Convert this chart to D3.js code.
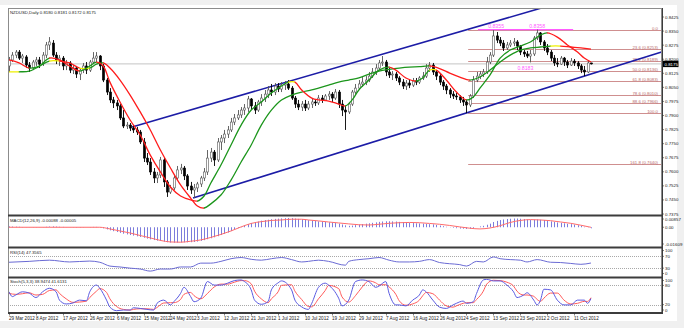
<!DOCTYPE html>
<html><head><meta charset="utf-8">
<script src="https://cdn.jsdelivr.net/npm/d3@7"></script>
<style>
html,body{margin:0;padding:0;background:#f0f0f0;}
svg{display:block;font-family:"Liberation Sans",Arial,sans-serif;}
</style></head>
<body><svg id="chart" width="684" height="328"></svg>
<script>
// ---- NZDUSD daily, 29 Mar – 17 Oct 2012 ----
const dateLabels = ["29 Mar 2012","8 Apr 2012","17 Apr 2012","26 Apr 2012","6 May 2012","15 May 2012","24 May 2012","3 Jun 2012","12 Jun 2012","21 Jun 2012","1 Jul 2012","10 Jul 2012","19 Jul 2012","29 Jul 2012","7 Aug 2012","16 Aug 2012","26 Aug 2012","4 Sep 2012","13 Sep 2012","23 Sep 2012","2 Oct 2012","11 Oct 2012"];
const barsPerDateLabel = 8;

const opens = [0.8164,0.8196,0.8222,0.8238,0.8206,0.8212,0.8169,0.8153,0.8185,0.8196,0.8180,0.8222,0.8276,0.8286,0.8222,0.8196,0.8206,0.8164,0.8180,0.8142,0.8153,0.8121,0.8142,0.8164,0.8142,0.8185,0.8206,0.8217,0.8164,0.8089,0.8025,0.7983,0.7967,0.7951,0.7887,0.7844,0.7849,0.7833,0.7823,0.7812,0.7759,0.7673,0.7652,0.7599,0.7567,0.7583,0.7663,0.7546,0.7492,0.7514,0.7567,0.7610,0.7620,0.7578,0.7524,0.7503,0.7514,0.7535,0.7567,0.7599,0.7673,0.7705,0.7663,0.7759,0.7780,0.7801,0.7823,0.7865,0.7887,0.7903,0.7929,0.7940,0.7988,0.7951,0.7929,0.7972,0.7993,0.8014,0.8036,0.8025,0.8057,0.8041,0.8062,0.8068,0.8046,0.7993,0.7961,0.7945,0.7961,0.7940,0.7961,0.7972,0.7967,0.7993,0.7983,0.8004,0.8014,0.7993,0.8025,0.7961,0.7929,0.7919,0.7961,0.8025,0.8046,0.8068,0.8078,0.8089,0.8110,0.8132,0.8153,0.8180,0.8185,0.8132,0.8116,0.8121,0.8100,0.8078,0.8057,0.8073,0.8062,0.8084,0.8078,0.8100,0.8110,0.8153,0.8169,0.8132,0.8110,0.8078,0.8057,0.8036,0.8014,0.8004,0.7999,0.7983,0.7972,0.7956,0.8004,0.8089,0.8110,0.8121,0.8132,0.8185,0.8222,0.8324,0.8302,0.8286,0.8260,0.8276,0.8286,0.8292,0.8270,0.8238,0.8228,0.8217,0.8228,0.8313,0.8340,0.8292,0.8260,0.8238,0.8206,0.8180,0.8174,0.8206,0.8185,0.8169,0.8190,0.8180,0.8164,0.8142,0.8132,0.8180];
const highs = [0.8212,0.8238,0.8249,0.8249,0.8228,0.8222,0.8185,0.8196,0.8212,0.8212,0.8238,0.8292,0.8318,0.8302,0.8238,0.8222,0.8217,0.8196,0.8190,0.8169,0.8164,0.8153,0.8180,0.8185,0.8196,0.8238,0.8238,0.8222,0.8174,0.8100,0.8046,0.7999,0.7983,0.7961,0.7929,0.7865,0.7860,0.7849,0.7839,0.7823,0.7780,0.7700,0.7673,0.7620,0.7599,0.7679,0.7673,0.7556,0.7530,0.7578,0.7631,0.7642,0.7631,0.7588,0.7546,0.7535,0.7546,0.7578,0.7620,0.7716,0.7727,0.7716,0.7780,0.7796,0.7823,0.7844,0.7887,0.7908,0.7929,0.7945,0.7961,0.8004,0.7993,0.7972,0.7983,0.8014,0.8036,0.8057,0.8068,0.8073,0.8073,0.8078,0.8084,0.8089,0.8057,0.8004,0.7983,0.7977,0.7983,0.7977,0.7988,0.7988,0.8009,0.8009,0.8014,0.8030,0.8025,0.8041,0.8036,0.7983,0.7951,0.7972,0.8036,0.8068,0.8089,0.8105,0.8110,0.8132,0.8153,0.8174,0.8196,0.8217,0.8196,0.8153,0.8137,0.8132,0.8110,0.8094,0.8089,0.8094,0.8100,0.8100,0.8110,0.8132,0.8174,0.8185,0.8180,0.8142,0.8121,0.8089,0.8068,0.8046,0.8030,0.8020,0.8009,0.7999,0.7983,0.8014,0.8110,0.8132,0.8137,0.8148,0.8212,0.8238,0.8355,0.8345,0.8318,0.8302,0.8292,0.8302,0.8313,0.8302,0.8276,0.8249,0.8244,0.8249,0.8324,0.8358,0.8345,0.8302,0.8281,0.8249,0.8222,0.8206,0.8217,0.8212,0.8196,0.8206,0.8201,0.8190,0.8174,0.8164,0.8190,0.8181];
const lows = [0.8132,0.8185,0.8206,0.8196,0.8180,0.8153,0.8132,0.8142,0.8164,0.8153,0.8164,0.8206,0.8249,0.8212,0.8174,0.8164,0.8142,0.8142,0.8126,0.8121,0.8100,0.8089,0.8126,0.8121,0.8132,0.8174,0.8185,0.8142,0.8078,0.8009,0.7967,0.7940,0.7929,0.7876,0.7833,0.7828,0.7817,0.7807,0.7796,0.7748,0.7652,0.7636,0.7583,0.7540,0.7540,0.7567,0.7519,0.7466,0.7482,0.7503,0.7556,0.7588,0.7556,0.7503,0.7482,0.7460,0.7492,0.7519,0.7551,0.7583,0.7652,0.7631,0.7652,0.7716,0.7753,0.7780,0.7812,0.7849,0.7876,0.7887,0.7903,0.7919,0.7929,0.7908,0.7919,0.7951,0.7972,0.7993,0.8004,0.8009,0.8025,0.8025,0.8036,0.8036,0.7983,0.7940,0.7929,0.7924,0.7924,0.7929,0.7940,0.7951,0.7956,0.7967,0.7977,0.7983,0.7972,0.7983,0.7940,0.7897,0.7823,0.7908,0.7951,0.8009,0.8036,0.8052,0.8062,0.8078,0.8100,0.8116,0.8142,0.8164,0.8110,0.8100,0.8089,0.8084,0.8062,0.8041,0.8036,0.8046,0.8052,0.8062,0.8068,0.8089,0.8100,0.8132,0.8116,0.8089,0.8062,0.8036,0.8014,0.7993,0.7988,0.7983,0.7967,0.7951,0.7913,0.7945,0.7993,0.8078,0.8094,0.8105,0.8121,0.8174,0.8212,0.8286,0.8270,0.8244,0.8249,0.8265,0.8270,0.8249,0.8222,0.8212,0.8206,0.8183,0.8217,0.8302,0.8276,0.8244,0.8222,0.8190,0.8164,0.8158,0.8169,0.8164,0.8153,0.8164,0.8164,0.8148,0.8126,0.8110,0.8126,0.8172];
const closes = [0.8196,0.8222,0.8238,0.8206,0.8217,0.8169,0.8153,0.8185,0.8196,0.8174,0.8222,0.8276,0.8292,0.8222,0.8196,0.8206,0.8164,0.8180,0.8142,0.8153,0.8121,0.8142,0.8164,0.8142,0.8185,0.8206,0.8217,0.8164,0.8089,0.8025,0.7983,0.7967,0.7951,0.7887,0.7844,0.7849,0.7833,0.7823,0.7812,0.7759,0.7673,0.7652,0.7599,0.7567,0.7583,0.7663,0.7546,0.7492,0.7514,0.7567,0.7610,0.7620,0.7578,0.7524,0.7503,0.7514,0.7535,0.7567,0.7599,0.7673,0.7705,0.7663,0.7759,0.7780,0.7801,0.7823,0.7865,0.7887,0.7903,0.7929,0.7940,0.7988,0.7951,0.7929,0.7972,0.7993,0.8014,0.8036,0.8025,0.8057,0.8041,0.8062,0.8068,0.8046,0.7993,0.7961,0.7945,0.7961,0.7940,0.7961,0.7972,0.7967,0.7993,0.7983,0.8004,0.8014,0.7993,0.8025,0.7961,0.7929,0.7919,0.7961,0.8025,0.8046,0.8068,0.8078,0.8089,0.8110,0.8132,0.8153,0.8180,0.8185,0.8132,0.8116,0.8121,0.8100,0.8078,0.8057,0.8073,0.8062,0.8084,0.8078,0.8100,0.8110,0.8153,0.8169,0.8132,0.8110,0.8078,0.8057,0.8036,0.8014,0.8004,0.7999,0.7983,0.7972,0.7956,0.8004,0.8089,0.8110,0.8121,0.8132,0.8185,0.8222,0.8324,0.8302,0.8286,0.8260,0.8276,0.8286,0.8292,0.8270,0.8238,0.8228,0.8217,0.8228,0.8313,0.8340,0.8292,0.8260,0.8238,0.8206,0.8180,0.8174,0.8206,0.8185,0.8169,0.8190,0.8180,0.8164,0.8142,0.8132,0.8180,0.8175];

// colour-changing moving averages (sampled by bar)
const fastMaBars = [0,3,6,9,12,15,18,21,24,26,28,30,33,36,39,42,45,48,51,54,56,58,60,63,66,69,72,75,78,81,83,85,87,90,92,95,98,100,102,104,107,110,113,115,118,121,123,125,127,130,133,136,138,140,143,146,149,152,155,158,160,163,166,169,171,173];
const fastMaValues = [0.8196,0.8180,0.8153,0.8164,0.8206,0.8196,0.8164,0.8137,0.8164,0.8185,0.8164,0.8078,0.7972,0.7876,0.7796,0.7689,0.7599,0.7519,0.7471,0.7450,0.7444,0.7471,0.7540,0.7636,0.7743,0.7849,0.7929,0.7972,0.8020,0.8057,0.8078,0.8078,0.8036,0.7993,0.7983,0.7977,0.7961,0.7951,0.7983,0.8036,0.8089,0.8142,0.8158,0.8142,0.8100,0.8084,0.8100,0.8142,0.8142,0.8089,0.8025,0.7983,0.7999,0.8046,0.8116,0.8206,0.8249,0.8270,0.8292,0.8329,0.8340,0.8318,0.8276,0.8238,0.8206,0.8185];
const slowMaBars = [0,3,6,9,12,15,18,21,24,26,28,30,33,36,39,42,45,48,51,54,56,58,60,63,66,69,72,75,78,81,84,87,90,92,95,98,101,104,107,110,113,116,119,122,125,128,131,134,137,140,143,146,149,152,155,158,161,164,167,170,173];
const slowMaValues = [0.8132,0.8133,0.8136,0.8162,0.8190,0.8190,0.8180,0.8153,0.8153,0.8174,0.8180,0.8153,0.8089,0.8009,0.7919,0.7823,0.7716,0.7620,0.7530,0.7460,0.7418,0.7407,0.7429,0.7476,0.7556,0.7652,0.7743,0.7849,0.7929,0.7983,0.8009,0.8025,0.8036,0.8046,0.8062,0.8078,0.8089,0.8100,0.8121,0.8137,0.8146,0.8153,0.8158,0.8160,0.8164,0.8150,0.8126,0.8105,0.8089,0.8105,0.8142,0.8185,0.8222,0.8249,0.8260,0.8265,0.8270,0.8270,0.8265,0.8260,0.8254];

// channel trendlines: two anchors each (bar, price)
const upperChannelBars = [36.6, 134.1];
const upperChannelPrices = [0.7839, 0.8347];
const lowerChannelBars = [54.7, 194];
const lowerChannelPrices = [0.7460, 0.8238];

// Fibonacci retracement from the 4 Sep low to the 19 Sep high
const fibStartBar = 136.5;
const fibLevels = [0.0, 23.6, 38.2, 50.0, 61.8, 78.6, 88.6, 100.0, 161.8];
const fibPrices = [0.8358, 0.8253, 0.8189, 0.8136, 0.8083, 0.8010, 0.7966, 0.7913, 0.7640];

// swing annotations
const swingBars = [144.8, 157, 153.5];
const swingPrices = [0.8355, 0.8358, 0.8183];
const swingIsHigh = [true, true, false];
const swingLineBars = [139.4, 167.7];
const swingLinePrice = 0.8358;

const lastPrice = 0.8175;
const priceTicks = [0.8425,0.8350,0.8275,0.8200,0.8125,0.8050,0.7975,0.7900,0.7825,0.7750,0.7675,0.7600,0.7525,0.7450,0.7375];

// MACD(12,26,9)
const macdHist = [0.0007,0.0006,0.0005,0.0004,0.0002,0.0001,-0.0001,-0.0002,-0.0002,-0.0001,0.0001,0.0004,0.0006,0.0007,0.0006,0.0004,0.0003,0.0001,-0.0001,-0.0002,-0.0003,-0.0003,-0.0002,0.0000,0.0002,0.0003,0.0003,0.0002,
-0.0009,-0.0018,-0.0026,-0.0033,-0.0040,-0.0047,-0.0054,-0.0060,-0.0065,-0.0070,-0.0076,-0.0081,-0.0088,-0.0095,-0.0101,-0.0107,-0.0112,-0.0114,-0.0120,-0.0125,-0.0128,
-0.0129,-0.0128,-0.0127,-0.0126,-0.0126,-0.0125,-0.0123,-0.0120,-0.0114,-0.0108,-0.0100,-0.0092,-0.0084,-0.0075,-0.0065,-0.0055,-0.0044,-0.0032,-0.0019,-0.0007,
0.0004,0.0015,0.0026,0.0035,0.0042,0.0048,0.0055,0.0060,0.0063,0.0067,0.0070,0.0072,0.0074,0.0076,0.0077,0.0076,0.0073,0.0070,0.0066,0.0062,0.0059,0.0055,0.0052,0.0049,0.0047,0.0044,0.0041,0.0039,0.0035,
0.0030,0.0023,0.0016,0.0012,0.0014,0.0018,0.0022,0.0026,0.0030,0.0033,0.0037,0.0041,0.0045,0.0048,0.0050,0.0050,0.0049,0.0048,0.0045,0.0042,0.0040,0.0037,0.0035,0.0033,0.0032,0.0030,0.0028,0.0026,0.0024,0.0019,0.0014,0.0009,0.0004,-0.0002,-0.0005,-0.0008,-0.0011,-0.0012,-0.0014,
-0.0012,-0.0007,0.0000,0.0007,0.0012,0.0021,0.0030,0.0044,0.0053,0.0060,0.0065,0.0069,0.0071,0.0073,0.0073,0.0071,0.0069,0.0065,0.0062,0.0063,0.0065,0.0063,0.0060,0.0055,0.0049,0.0044,0.0040,0.0036,0.0033,0.0029,0.0026,0.0022,0.0017,0.0011,0.0004,-0.0002,-0.00088];
const macdSignalBars = [0,12,27,30,33,36,39,42,45,48,51,54,57,60,63,66,69,72,75,78,81,84,87,89,92,95,98,101,104,107,110,113,116,119,122,125,128,131,134,137,140,143,146,149,152,155,158,161,164,167,170,173];
const macdSignal = [0.0000,0.0000,0.0000,-0.0014,-0.0031,-0.0048,-0.0069,-0.0089,-0.0110,-0.0123,-0.0125,-0.0117,-0.0106,-0.0085,-0.0060,-0.0031,0.0003,0.0032,0.0047,0.0057,0.0061,0.0067,0.0067,0.0061,0.0053,0.0044,0.0036,0.0028,0.0021,0.0019,0.0025,0.0033,0.0038,0.0040,0.0038,0.0032,0.0025,0.0015,0.0003,-0.0008,-0.0014,-0.0006,0.0013,0.0040,0.0057,0.0064,0.0061,0.0055,0.0044,0.0033,0.0017,-0.00005];
const macdRange = [-0.01609, 0.00857];

// RSI(14)
const rsiBars = [0,6,12,18,24,27,30,33,36,39,42,45,48,51,54,57,60,63,66,69,72,75,78,81,84,87,89,92,95,100,101,104,107,110,113,116,119,122,125,128,131,134,136,139,141,144,146,149,152,154,157,161,164,167,170,173];
const rsiValues = [50,53,57,51,54,50,37,34,30,27,20,27,27,34,34,47,47,53,62,66,60,57,62,66,59,51,53,57,53,40,53,59,62,66,57,51,51,53,59,49,45,42,37,53,51,68,62,59,57,51,59,50,49,46,43,47.3565];
const rsiLevels = [70, 30];
const rsiTickValues = [100, 70, 30, 0];

// Stochastic(5,3,3)
const stochBars = [0,1,2,4,6,8,10,12,14,15,17,19,21,23,24,26,27,29,30,32,34,36,37,39,41,43,44,46,48,49,51,52,54,55,57,59,61,63,65,67,69,70,72,73,75,77,78,80,81,84,85,87,89,90,92,94,95,98,99,101,103,105,107,109,110,112,113,115,116,118,120,122,123,124,126,128,130,132,133,135,136,138,139,141,142,144,146,148,150,151,153,154,156,157,158,159,161,163,165,167,169,171,172,173];
const stochK = [60,45,50,60,56,42,60,71,60,34,22,25,34,32,60,81,71,34,12,1,3,3,10,8,5,3,24,34,19,29,55,74,45,29,40,92,81,81,87,95,97,92,66,34,21,29,66,88,94,66,34,13,5,24,74,87,81,40,16,34,92,97,92,74,78,92,55,19,19,16,34,50,66,60,34,12,8,19,24,31,24,29,55,97,99,94,94,81,60,42,50,57,34,19,34,68,66,34,19,19,34,34,24,38.9474];
const stochDBars = [0,2,4,6,8,10,12,14,15,17,19,21,23,24,26,27,29,30,32,34,36,37,39,41,43,44,46,48,49,51,52,54,55,57,59,61,63,65,67,69,70,72,73,75,77,78,80,81,84,85,87,89,90,92,94,95,98,99,101,103,105,107,109,110,112,113,115,116,118,120,122,123,124,126,128,130,132,133,135,136,138,139,141,142,144,146,148,150,151,153,154,156,157,158,159,161,163,165,167,169,171,172,173];
const stochD = [55,52,54,57,50,52,64,66,55,38,27,28,31,42,62,70,58,38,14,5,3,5,7,7,5,11,25,26,26,36,52,58,48,38,55,75,84,84,90,95,95,85,62,38,26,38,60,80,82,62,36,14,13,38,64,80,70,44,28,48,75,94,88,82,82,75,52,32,18,22,34,48,58,54,34,16,12,16,24,26,26,36,62,84,96,95,90,78,62,50,50,46,36,30,40,56,56,34,22,24,30,30,41.6131];
const stochLevels = [80, 20];
const stochTickValues = [100, 80, 20, 0];

// ---- layout ----
const svg = d3.select("#chart");
const plotL = 8, plotR = 662;
const mainT = 8, mainB = 215;
const macdT = 217, macdB = 246.5;
const rsiT = 248.5, rsiB = 277;
const stT = 279, stB = 312.5;

const x = d3.scaleLinear().domain([0, 194]).range([9, 661.6]);
const yPrice = d3.scaleLinear().domain([0.7375, 0.8425]).range([214, 17]);
const yMacd = d3.scaleLinear().domain(macdRange).range([246.5, 217]);
const yRsi = d3.scaleLinear().domain([0, 100]).range([277, 247.5]);
const ySt = d3.scaleLinear().domain([0, 100]).range([311, 279]);

const defs = svg.append("defs");
function clipRect(id, t, b) {
  defs.append("clipPath").attr("id", id).append("rect")
    .attr("x", plotL).attr("y", t).attr("width", plotR - plotL).attr("height", b - t);
}
clipRect("clip-main", mainT, mainB);
clipRect("clip-macd", macdT, macdB);
clipRect("clip-rsi", rsiT, rsiB);
clipRect("clip-st", stT, stB);

// backgrounds
svg.append("rect").attr("x", 0).attr("y", 5).attr("width", 677).attr("height", 316).attr("fill", "#ffffff");

const gMain = svg.append("g").attr("clip-path", "url(#clip-main)");
const gMacd = svg.append("g").attr("clip-path", "url(#clip-macd)");
const gRsi = svg.append("g").attr("clip-path", "url(#clip-rsi)");
const gSt = svg.append("g").attr("clip-path", "url(#clip-st)");

// bid line
gMain.append("line").attr("x1", plotL).attr("x2", plotR)
  .attr("y1", yPrice(lastPrice)).attr("y2", yPrice(lastPrice))
  .attr("stroke", "#c4c4c4").attr("stroke-width", 1);

// Fibonacci levels
const fibColour = "#cf8f8f";
fibLevels.forEach((lv, i) => {
  const yy = Math.round(yPrice(fibPrices[i])) + 0.5;
  gMain.append("line").attr("x1", x(fibStartBar)).attr("x2", plotR)
    .attr("y1", yy).attr("y2", yy).attr("stroke", fibColour).attr("stroke-width", 1);
  const txt = (lv === 0 || lv === 100) ? lv.toFixed(1) : `${lv.toFixed(1)} (${fibPrices[i].toFixed(4)})`;
  gMain.append("text").attr("x", plotR - 4).attr("y", yy - 1)
    .attr("text-anchor", "end").attr("font-size", 4.3).attr("fill", "#b86a6a").text(txt);
});

// swing high line and labels
const magenta = "#ff5cff";
gMain.append("line").attr("x1", x(swingLineBars[0])).attr("x2", x(swingLineBars[1]))
  .attr("y1", yPrice(swingLinePrice)).attr("y2", yPrice(swingLinePrice))
  .attr("stroke", magenta).attr("stroke-width", 1.2);
swingBars.forEach((b, i) => {
  gMain.append("text").attr("x", x(b))
    .attr("y", swingIsHigh[i] ? yPrice(swingPrices[i]) - 2 : yPrice(swingPrices[i]) + 7.5)
    .attr("text-anchor", "middle").attr("font-size", 5.2).attr("fill", magenta)
    .text(swingPrices[i].toFixed(4));
});

// channel lines
function drawTrend(bars, prices) {
  const slope = (prices[1] - prices[0]) / (bars[1] - bars[0]);
  const endBar = 194;
  gMain.append("line")
    .attr("x1", x(bars[0])).attr("y1", yPrice(prices[0]))
    .attr("x2", x(endBar)).attr("y2", yPrice(prices[0] + slope * (endBar - bars[0])))
    .attr("stroke", "#1c1ca6").attr("stroke-width", 1.6);
}
drawTrend(upperChannelBars, upperChannelPrices);
drawTrend(lowerChannelBars, lowerChannelPrices);

// candlesticks
const bodyW = 2.2;
closes.forEach((c, i) => {
  const o = opens[i], up = c >= o;
  const cx = Math.round(x(i)) + 0.5;
  gMain.append("line").attr("x1", cx).attr("x2", cx)
    .attr("y1", yPrice(highs[i])).attr("y2", yPrice(lows[i]))
    .attr("stroke", up ? "#555" : "#000").attr("stroke-width", 0.9);
  const y0 = yPrice(Math.max(o, c)), y1 = yPrice(Math.min(o, c));
  gMain.append("rect").attr("x", cx - bodyW / 2).attr("width", bodyW)
    .attr("y", y0).attr("height", Math.max(0.8, y1 - y0))
    .attr("fill", up ? "#ffffff" : "#000000")
    .attr("stroke", up ? "#555" : "#000").attr("stroke-width", 0.6);
});

// colour-changing moving averages
const maUp = "#1c961c", maDown = "#ff1c1c", maFlat = "#f0f000";
const flatSlope = 0.00006;
let clipCount = 0;
function drawMa(bars, vals) {
  const pathD = d3.line().x((d, i) => x(bars[i])).y(d => yPrice(d))
    .curve(d3.curveCatmullRom.alpha(0.5))(vals);
  const runs = [];
  for (let i = 0; i < bars.length - 1; i++) {
    const s = (vals[i + 1] - vals[i]) / (bars[i + 1] - bars[i]);
    const col = s > flatSlope ? maUp : (s < -flatSlope ? maDown : maFlat);
    if (runs.length && runs[runs.length - 1].col === col) runs[runs.length - 1].b1 = bars[i + 1];
    else runs.push({ b0: bars[i], b1: bars[i + 1], col });
  }
  runs.forEach(r => {
    const id = "ma-run-" + (clipCount++);
    defs.append("clipPath").attr("id", id).append("rect")
      .attr("x", x(r.b0) - 0.3).attr("width", x(r.b1) - x(r.b0) + 0.6)
      .attr("y", mainT).attr("height", mainB - mainT);
    gMain.append("path").attr("d", pathD).attr("clip-path", `url(#${id})`)
      .attr("fill", "none").attr("stroke", r.col).attr("stroke-width", 1.3);
  });
}
drawMa(slowMaBars, slowMaValues);
drawMa(fastMaBars, fastMaValues);

// MACD
macdHist.forEach((v, i) => {
  const cx = Math.round(x(i)) + 0.5;
  gMacd.append("line").attr("x1", cx).attr("x2", cx)
    .attr("y1", yMacd(0)).attr("y2", yMacd(v))
    .attr("stroke", "#7c7cdc").attr("stroke-width", 1);
});
gMacd.append("path")
  .attr("d", d3.line().x((d, i) => x(macdSignalBars[i])).y(d => yMacd(d)).curve(d3.curveMonotoneX)(macdSignal))
  .attr("fill", "none").attr("stroke", "#ff6a6a").attr("stroke-width", 1);

// RSI
rsiLevels.forEach(l => gRsi.append("line").attr("x1", plotL).attr("x2", plotR)
  .attr("y1", Math.round(yRsi(l)) + 0.5).attr("y2", Math.round(yRsi(l)) + 0.5)
  .attr("stroke", "#a8a8a8").attr("stroke-dasharray", "1,1"));
gRsi.append("path")
  .attr("d", d3.line().x((d, i) => x(rsiBars[i])).y(d => yRsi(d)).curve(d3.curveMonotoneX)(rsiValues))
  .attr("fill", "none").attr("stroke", "#6a6ad4").attr("stroke-width", 1);

// Stochastic
stochLevels.forEach(l => gSt.append("line").attr("x1", plotL).attr("x2", plotR)
  .attr("y1", Math.round(ySt(l)) + 0.5).attr("y2", Math.round(ySt(l)) + 0.5)
  .attr("stroke", "#a8a8a8").attr("stroke-dasharray", "1,1"));
gSt.append("path")
  .attr("d", d3.line().x((d, i) => x(stochDBars[i])).y(d => ySt(d)).curve(d3.curveMonotoneX)(stochD))
  .attr("fill", "none").attr("stroke", "#ff5a5a").attr("stroke-width", 1);
gSt.append("path")
  .attr("d", d3.line().x((d, i) => x(stochBars[i])).y(d => ySt(d)).curve(d3.curveMonotoneX)(stochK))
  .attr("fill", "none").attr("stroke", "#5a5ae0").attr("stroke-width", 1);

// frames and separators
svg.append("rect").attr("x", plotL + 0.5).attr("y", mainT + 0.5)
  .attr("width", plotR - plotL - 1).attr("height", stB - mainT)
  .attr("fill", "none").attr("stroke", "#8c8c8c").attr("stroke-width", 1);
[mainB + 0.5, 247.5, 277.5, 313].forEach(yy => svg.append("line")
  .attr("x1", plotL).attr("x2", plotR).attr("y1", yy).attr("y2", yy)
  .attr("stroke", "#3c3c3c").attr("stroke-width", 1.8));
svg.append("line").attr("x1", plotR + 0.5).attr("x2", plotR + 0.5)
  .attr("y1", mainT).attr("y2", 314).attr("stroke", "#3c3c3c").attr("stroke-width", 1);

// right axes
const axisFont = 4.4;
function rightLabels(vals, scale, fmt, clampT, clampB) {
  vals.forEach(v => {
    const yy = Math.min(clampB, Math.max(clampT, scale(v)));
    svg.append("line").attr("x1", plotR).attr("x2", plotR + 2).attr("y1", yy).attr("y2", yy)
      .attr("stroke", "#333").attr("stroke-width", 0.6);
    svg.append("text").attr("x", plotR + 3).attr("y", yy + 1.5).attr("font-size", axisFont)
      .attr("fill", "#222").text(fmt(v));
  });
}
rightLabels(priceTicks, yPrice, d => d.toFixed(4), 10, 214);
rightLabels([macdRange[1], 0, macdRange[0]], yMacd, d => d === 0 ? "0.00" : d.toFixed(5), 219, 244);
rightLabels(rsiTickValues, yRsi, d => String(d), 250.5, 273.5);
rightLabels(stochTickValues, ySt, d => String(d), 280.5, 310);

// last price tag
const lp = yPrice(lastPrice);
svg.append("rect").attr("x", plotR + 1).attr("y", lp - 3.2).attr("width", 15.5).attr("height", 6.4).attr("fill", "#000");
svg.append("text").attr("x", plotR + 2.5).attr("y", lp + 1.6).attr("font-size", axisFont)
  .attr("fill", "#fff").text(lastPrice.toFixed(4));

// date axis
dateLabels.forEach((d, k) => {
  const xx = Math.round(x(k * barsPerDateLabel)) + 0.5;
  svg.append("line").attr("x1", xx).attr("x2", xx).attr("y1", 313).attr("y2", 315.5)
    .attr("stroke", "#333").attr("stroke-width", 0.6);
  svg.append("text").attr("x", xx - 0.5).attr("y", 319.5).attr("font-size", 4.6)
    .attr("fill", "#222").text(d);
});

// window titles
const titleFont = 4.3;
const fmt5 = v => v.toFixed(5);
svg.append("text").attr("x", 10).attr("y", 13.5).attr("font-size", titleFont).attr("fill", "#222")
  .text("NZDUSD,Daily  0.8180 0.8181 0.8172 0.8175");
svg.append("text").attr("x", 10).attr("y", 222).attr("font-size", titleFont).attr("fill", "#222")
  .text("MACD(12,26,9) " + fmt5(macdHist[macdHist.length - 1]) + " " + fmt5(macdSignal[macdSignal.length - 1]));
svg.append("text").attr("x", 10).attr("y", 253.5).attr("font-size", titleFont).attr("fill", "#222")
  .text("RSI(14) " + rsiValues[rsiValues.length - 1].toFixed(4));
svg.append("text").attr("x", 10).attr("y", 283).attr("font-size", titleFont).attr("fill", "#222")
  .text("Stoch(5,3,3) " + stochK[stochK.length - 1].toFixed(4) + " " + stochD[stochD.length - 1].toFixed(4));
</script></body></html>
